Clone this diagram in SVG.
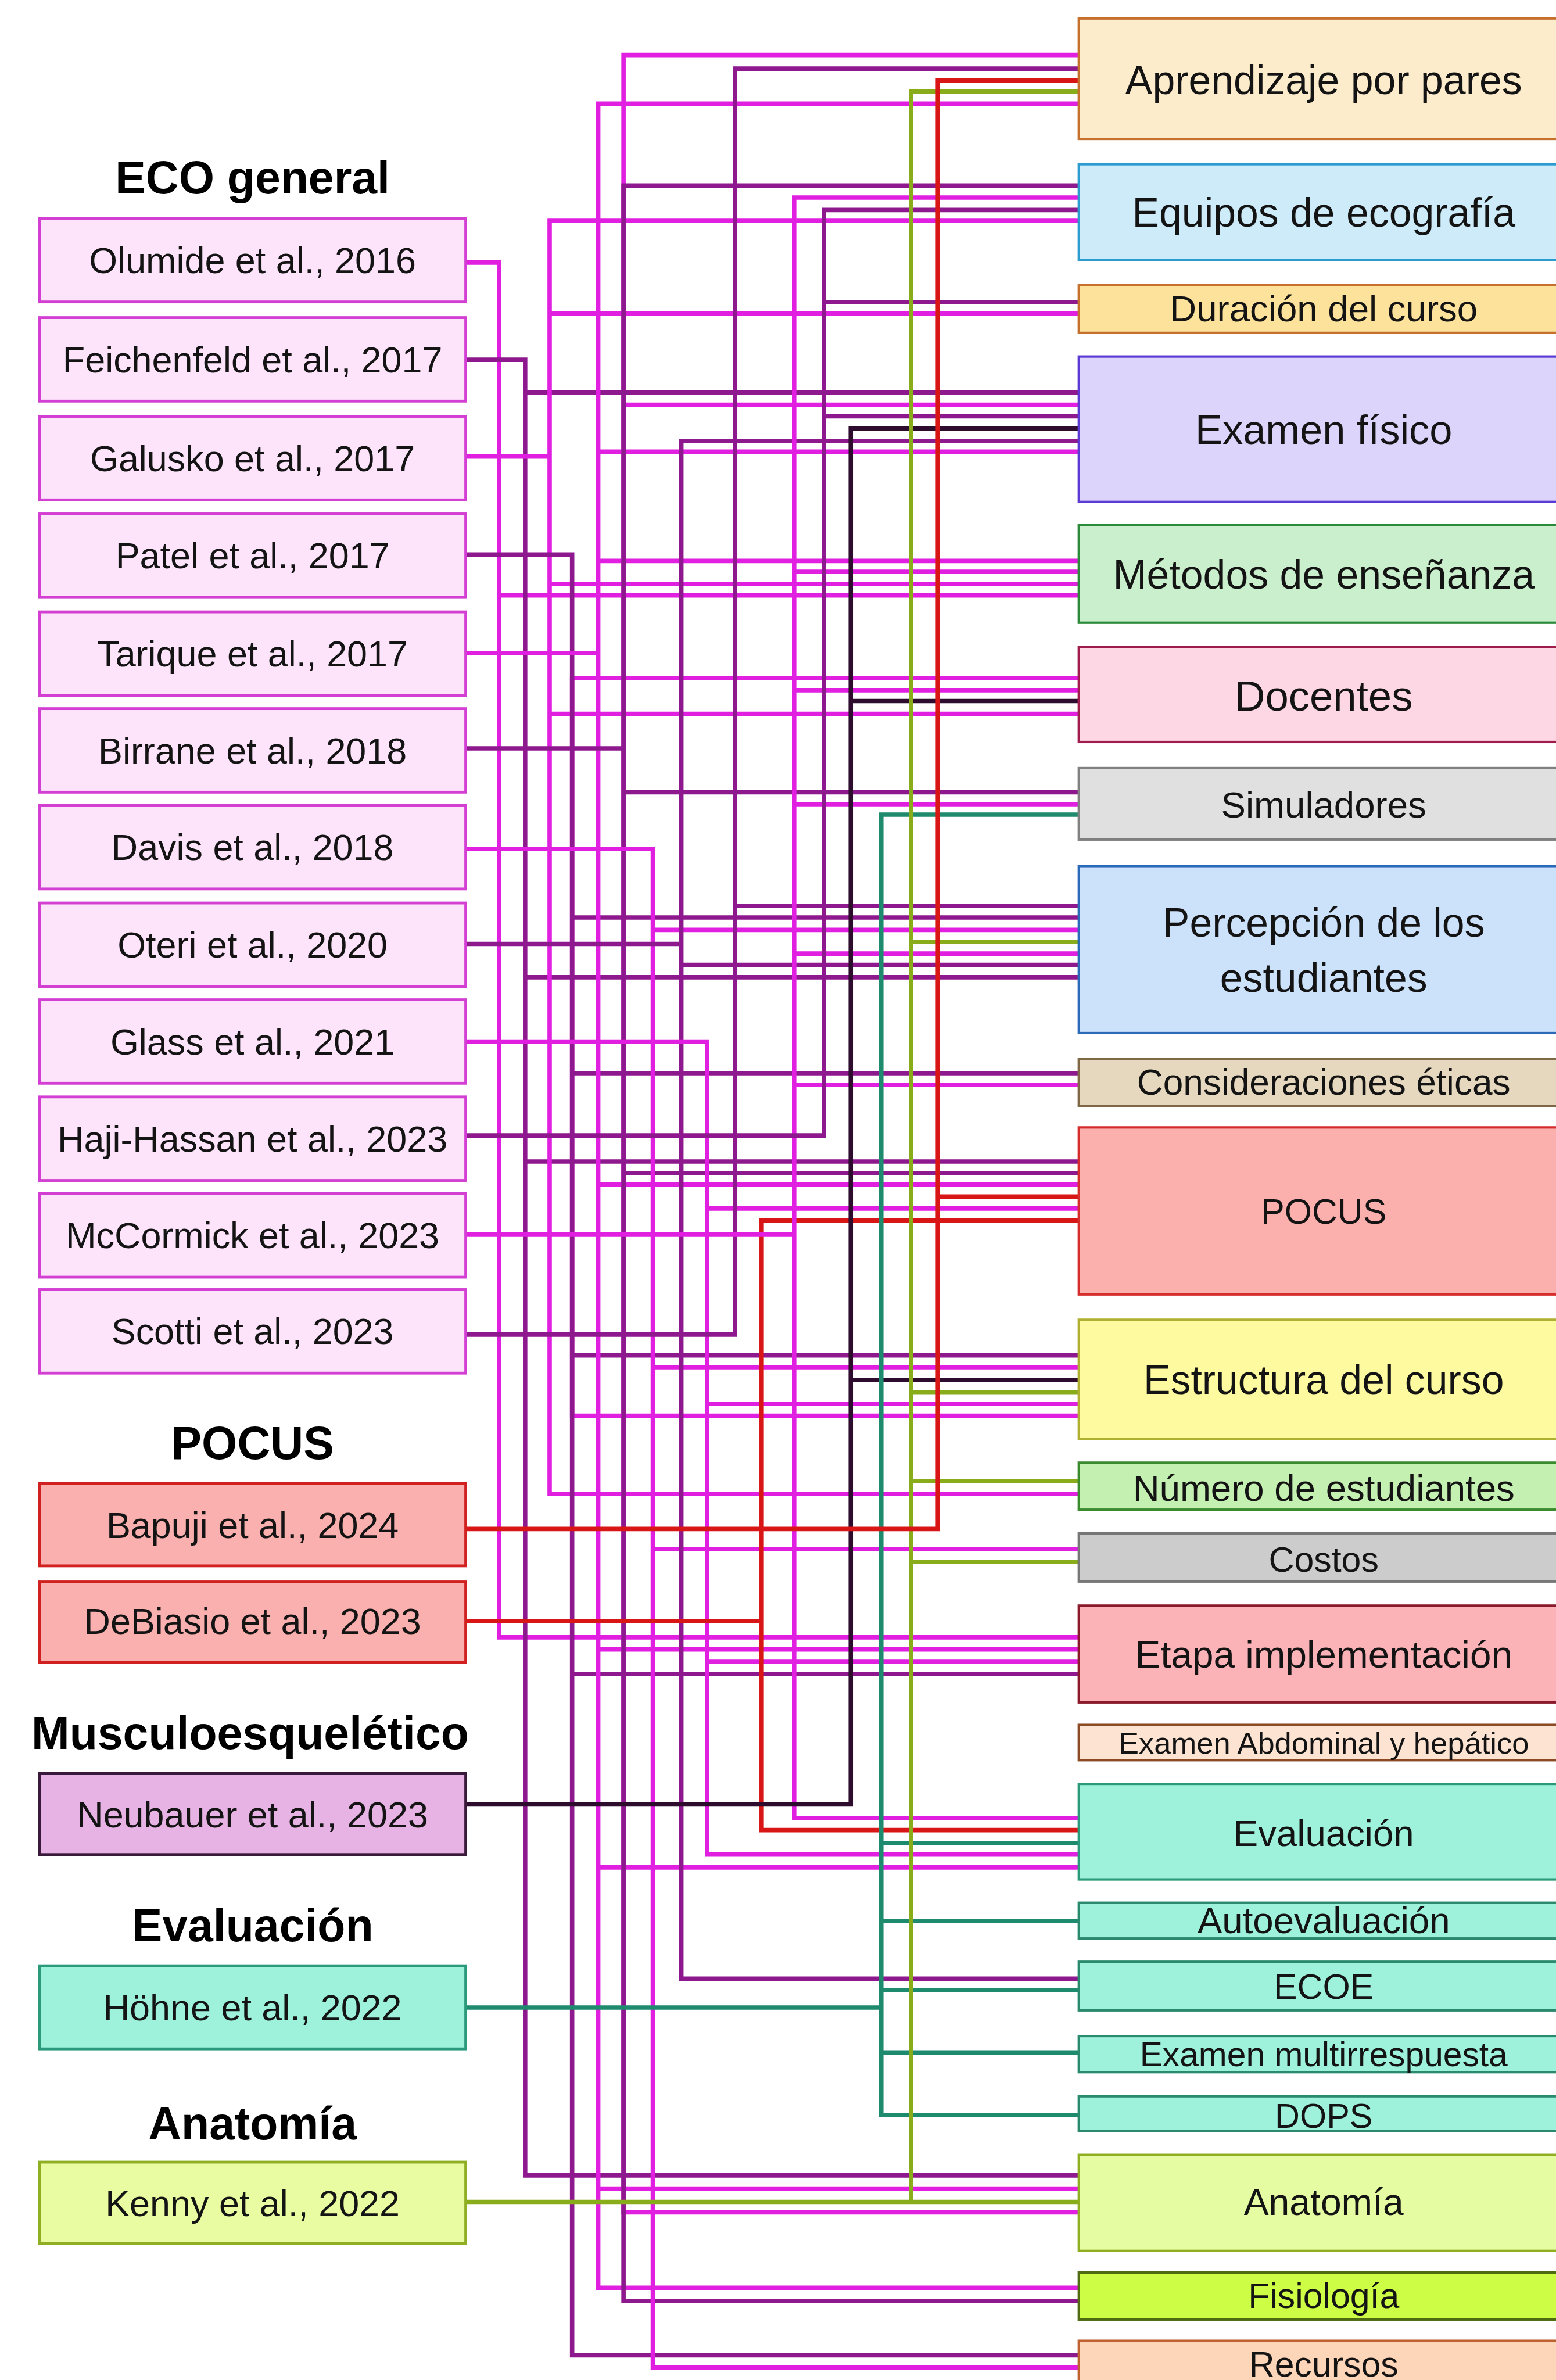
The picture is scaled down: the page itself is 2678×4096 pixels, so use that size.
<svg xmlns="http://www.w3.org/2000/svg" width="2678" height="4096" viewBox="0 0 2678 4096">
<style>
.c{fill:none;stroke-width:11;stroke-linecap:square}
.m{stroke:#e11fe0}.p{stroke:#8e198e}.d{stroke:#2e0c2e}.t{stroke:#1f8b6e}.o{stroke:#88ac1a}.r{stroke:#d91616}
.lt{font-family:"Liberation Sans",Arial,sans-serif;font-size:91px;fill:#141414;text-anchor:middle}
.ttl{font-family:"Liberation Sans",Arial,sans-serif;font-size:114px;font-weight:bold;fill:#000;text-anchor:middle}
.rt{font-family:"Liberation Sans",Arial,sans-serif;fill:#141414;text-anchor:middle}
.eco{fill:#fde4fb;stroke:#d23fd2;stroke-width:7}
.poc{fill:#f9b0ae;stroke:#d02020;stroke-width:7}
.mus{fill:#e7b3e4;stroke:#3a1a3a;stroke-width:7}
.ev{fill:#9ef2dc;stroke:#2a9a7a;stroke-width:7}
.an{fill:#e9fca2;stroke:#8fae22;stroke-width:7}
.rb{stroke-width:6}
</style>
<rect width="2678" height="4096" fill="#ffffff"/>
<g transform="scale(0.691)">
<g id="connectors">
<path class="c m" d="M1425,1689V3526 M1425,1689H2687 M1425,3526H2687"/>
<path class="c m" d="M1553,137V5510 M1553,137H2687 M1553,1008H2687 M1553,5510H2687"/>
<path class="c m" d="M1160,654H1243 M1243,654V4078 M1243,1483H2687 M1243,4078H2687"/>
<path class="c p" d="M1160,896H1308 M1308,896V5418 M1308,977H2687 M1308,2434H2687 M1308,2893H2687 M1308,5418H2687"/>
<path class="c m" d="M1160,1137H1369 M1369,550V3721 M1369,550H2687 M1369,781H2687 M1369,1454H2687 M1369,1778H2687 M1369,3721H2687"/>
<path class="c p" d="M1160,1381H1425 M1425,1381V5866 M1425,2285H2687 M1425,2673H2687 M1425,3376H2687 M1425,4169H2687 M1425,5866H2687"/>
<path class="c m" d="M1160,1627H1490 M1490,258V5698 M1490,258H2687 M1490,1125H2687 M1490,1397H2687 M1490,2950H2687 M1490,4108H2687 M1490,4651H2687 M1490,5451H2687 M1490,5698H2687"/>
<path class="c p" d="M1160,1864H1553 M1553,462V5731 M1553,462H2687 M1553,1973H2687 M1553,2922H2687 M1553,5731H2687"/>
<path class="c m" d="M1160,2114H1626 M1626,2114V5896 M1626,2316H2687 M1626,3405H2687 M1626,3858H2687 M1626,5896H2687"/>
<path class="c p" d="M1160,2351H1697 M1697,1098V4928 M1697,1098H2687 M1697,2403H2687 M1697,4928H2687"/>
<path class="c m" d="M1160,2594H1761 M1761,2594V4619 M1761,3010H2687 M1761,3496H2687 M1761,4139H2687 M1761,4619H2687"/>
<path class="c p" d="M1160,3324H1831 M1831,171V3324 M1831,171H2687 M1831,2256H2687"/>
<path class="c r" d="M1160,4038H1897 M1897,3040V4558 M1897,3040H2687 M1897,4558H2687"/>
<path class="c m" d="M1160,3075H1978 M1978,492V4528 M1978,492H2687 M1978,1424H2687 M1978,1719H2687 M1978,2003H2687 M1978,2375H2687 M1978,2702H2687 M1978,4528H2687"/>
<path class="c p" d="M1160,2828H2052 M2052,523V2828 M2052,523H2687 M2052,753H2687 M2052,1037H2687"/>
<path class="c d" d="M1160,4494H2119 M2119,1067V4494 M2119,1067H2687 M2119,1746H2687 M2119,3437H2687"/>
<path class="c t" d="M1160,5000H2195 M2195,2029V5268 M2195,2029H2687 M2195,4590H2687 M2195,4784H2687 M2195,4957H2687 M2195,5112H2687 M2195,5268H2687"/>
<path class="c o" d="M1160,5484H2687 M2269,228V5484 M2269,228H2687 M2269,2346H2687 M2269,3467H2687 M2269,3689H2687 M2269,3890H2687"/>
<path class="c r" d="M1160,3808H2336 M2336,201V3808 M2336,201H2687 M2336,2980H2687"/>
</g>
<g id="titles">
<text class="ttl" x="629" y="482">ECO general</text>
<text class="ttl" x="629" y="3634">POCUS</text>
<text class="ttl" x="623" y="4356">Musculoesquelético</text>
<text class="ttl" x="629" y="4835">Evaluación</text>
<text class="ttl" x="629" y="5328">Anatomía</text>
</g>
<g id="n-olumide"><rect class="eco" x="98" y="544" width="1062" height="208"/><text class="lt" x="629" y="680">Olumide et al., 2016</text></g>
<g id="n-feichenfeld"><rect class="eco" x="98" y="791" width="1062" height="208"/><text class="lt" x="629" y="927">Feichenfeld et al., 2017</text></g>
<g id="n-galusko"><rect class="eco" x="98" y="1037" width="1062" height="208"/><text class="lt" x="629" y="1173">Galusko et al., 2017</text></g>
<g id="n-patel"><rect class="eco" x="98" y="1280" width="1062" height="208"/><text class="lt" x="629" y="1416">Patel et al., 2017</text></g>
<g id="n-tarique"><rect class="eco" x="98" y="1524" width="1062" height="208"/><text class="lt" x="629" y="1660">Tarique et al., 2017</text></g>
<g id="n-birrane"><rect class="eco" x="98" y="1765" width="1062" height="208"/><text class="lt" x="629" y="1901">Birrane et al., 2018</text></g>
<g id="n-davis"><rect class="eco" x="98" y="2006" width="1062" height="208"/><text class="lt" x="629" y="2142">Davis et al., 2018</text></g>
<g id="n-oteri"><rect class="eco" x="98" y="2249" width="1062" height="208"/><text class="lt" x="629" y="2385">Oteri et al., 2020</text></g>
<g id="n-glass"><rect class="eco" x="98" y="2490" width="1062" height="208"/><text class="lt" x="629" y="2626">Glass et al., 2021</text></g>
<g id="n-haji"><rect class="eco" x="98" y="2732" width="1062" height="208"/><text class="lt" x="629" y="2868">Haji-Hassan et al., 2023</text></g>
<g id="n-mccormick"><rect class="eco" x="98" y="2973" width="1062" height="208"/><text class="lt" x="629" y="3109">McCormick et al., 2023</text></g>
<g id="n-scotti"><rect class="eco" x="98" y="3212" width="1062" height="208"/><text class="lt" x="629" y="3348">Scotti et al., 2023</text></g>
<g id="n-bapuji"><rect class="poc" x="98" y="3695" width="1062" height="205"/><text class="lt" x="629" y="3830">Bapuji et al., 2024</text></g>
<g id="n-debiasio"><rect class="poc" x="98" y="3940" width="1062" height="200"/><text class="lt" x="629" y="4070">DeBiasio et al., 2023</text></g>
<g id="n-neubauer"><rect class="mus" x="98" y="4417" width="1062" height="202"/><text class="lt" x="629" y="4552">Neubauer et al., 2023</text></g>
<g id="n-hohne"><rect class="ev" x="98" y="4896" width="1062" height="207"/><text class="lt" x="629" y="5032">Höhne et al., 2022</text></g>
<g id="n-kenny"><rect class="an" x="98" y="5385" width="1062" height="203"/><text class="lt" x="629" y="5519">Kenny et al., 2022</text></g>

<g id="r-aprendizaje"><rect class="rb" x="2687" y="46" width="1230" height="300" fill="#fdeccb" stroke="#c5702d"/><text class="rt" x="3297" y="234" font-size="101">Aprendizaje por pares</text></g>
<g id="r-equipos"><rect class="rb" x="2687" y="409" width="1230" height="239" fill="#cdebf8" stroke="#2b9bd0"/><text class="rt" x="3297" y="564" font-size="101">Equipos de ecografía</text></g>
<g id="r-duracion"><rect class="rb" x="2687" y="710" width="1230" height="119" fill="#fde29c" stroke="#c5702d"/><text class="rt" x="3297" y="801" font-size="92">Duración del curso</text></g>
<g id="r-examen"><rect class="rb" x="2687" y="888" width="1230" height="362" fill="#ddd4fc" stroke="#5b3bd3"/><text class="rt" x="3297" y="1105" font-size="102">Examen físico</text></g>
<g id="r-metodos"><rect class="rb" x="2687" y="1308" width="1230" height="243" fill="#c9efcc" stroke="#2a8a3a"/><text class="rt" x="3297" y="1466" font-size="101">Métodos de enseñanza</text></g>
<g id="r-docentes"><rect class="rb" x="2687" y="1612" width="1230" height="236" fill="#fdd7e3" stroke="#a01c4c"/><text class="rt" x="3297" y="1770" font-size="105">Docentes</text></g>
<g id="r-simuladores"><rect class="rb" x="2687" y="1913" width="1230" height="178" fill="#e0e0e0" stroke="#808080"/><text class="rt" x="3297" y="2036" font-size="92">Simuladores</text></g>
<g id="r-percepcion"><rect class="rb" x="2687" y="2157" width="1230" height="416" fill="#cce1fa" stroke="#2a6ab8"/><text class="rt" x="3297" y="2333" font-size="101">Percepción de los</text><text class="rt" x="3297" y="2470" font-size="101">estudiantes</text></g>
<g id="r-consideraciones"><rect class="rb" x="2687" y="2638" width="1230" height="117" fill="#e6d8bf" stroke="#7f6845"/><text class="rt" x="3297" y="2727" font-size="90">Consideraciones éticas</text></g>
<g id="r-pocus"><rect class="rb" x="2687" y="2808" width="1230" height="416" fill="#fbb0ae" stroke="#d52c2c"/><text class="rt" x="3297" y="3048" font-size="88">POCUS</text></g>
<g id="r-estructura"><rect class="rb" x="2687" y="3287" width="1230" height="297" fill="#fefaa0" stroke="#b0b030"/><text class="rt" x="3297" y="3472" font-size="101">Estructura del curso</text></g>
<g id="r-numero"><rect class="rb" x="2687" y="3643" width="1230" height="117" fill="#c4f0b2" stroke="#3a8a2e"/><text class="rt" x="3297" y="3738" font-size="92">Número de estudiantes</text></g>
<g id="r-costos"><rect class="rb" x="2687" y="3819" width="1230" height="120" fill="#cccccc" stroke="#777777"/><text class="rt" x="3297" y="3914" font-size="88">Costos</text></g>
<g id="r-etapa"><rect class="rb" x="2687" y="3999" width="1230" height="241" fill="#fbb3b8" stroke="#8a1a2a"/><text class="rt" x="3297" y="4153" font-size="95">Etapa implementación</text></g>
<g id="r-abdominal"><rect class="rb" x="2687" y="4296" width="1230" height="88" fill="#fde3d2" stroke="#8c4a25"/><text class="rt" x="3297" y="4368" font-size="76">Examen Abdominal y hepático</text></g>
<g id="r-evaluacion"><rect class="rb" x="2687" y="4443" width="1230" height="238" fill="#9ef2dc" stroke="#2a9a7a"/><text class="rt" x="3297" y="4597" font-size="92">Evaluación</text></g>
<g id="r-autoevaluacion"><rect class="rb" x="2687" y="4739" width="1230" height="89" fill="#9ef2dc" stroke="#2a8a6e"/><text class="rt" x="3297" y="4815" font-size="92">Autoevaluación</text></g>
<g id="r-ecoe"><rect class="rb" x="2687" y="4886" width="1230" height="121" fill="#9ef2dc" stroke="#2a8a6e"/><text class="rt" x="3297" y="4978" font-size="88">ECOE</text></g>
<g id="r-multirrespuesta"><rect class="rb" x="2687" y="5071" width="1230" height="90" fill="#9ef2dc" stroke="#2a8a6e"/><text class="rt" x="3297" y="5146" font-size="85">Examen multirrespuesta</text></g>
<g id="r-dops"><rect class="rb" x="2687" y="5221" width="1230" height="87" fill="#9ef2dc" stroke="#2a8a6e"/><text class="rt" x="3297" y="5300" font-size="86">DOPS</text></g>
<g id="r-anatomia"><rect class="rb" x="2687" y="5367" width="1230" height="239" fill="#e6fca2" stroke="#8fae22"/><text class="rt" x="3297" y="5517" font-size="93">Anatomía</text></g>
<g id="r-fisiologia"><rect class="rb" x="2687" y="5660" width="1230" height="117" fill="#cdfd44" stroke="#4f6d10"/><text class="rt" x="3297" y="5748" font-size="88">Fisiología</text></g>
<g id="r-recursos"><rect class="rb" x="2687" y="5830" width="1230" height="140" fill="#fdd5b8" stroke="#c0622f"/><text class="rt" x="3297" y="5919" font-size="88">Recursos</text></g>
</g>
</svg>
